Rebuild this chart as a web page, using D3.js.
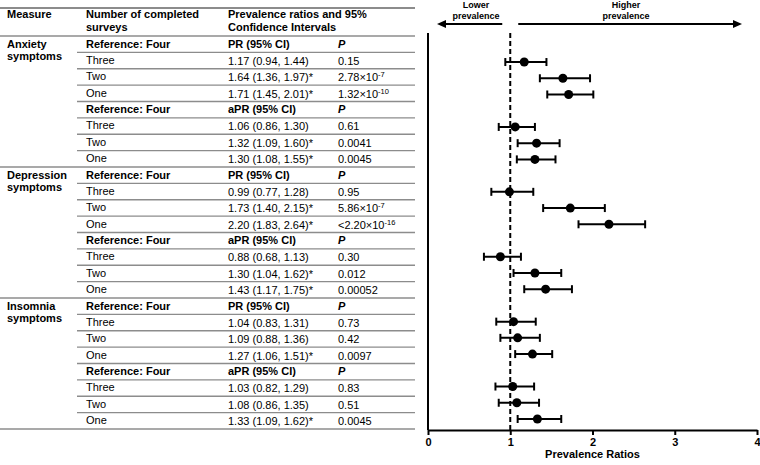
<!DOCTYPE html>
<html>
<head>
<meta charset="utf-8">
<script src="https://cdn.jsdelivr.net/npm/d3@7"></script>
<style>
    body { margin: 0; background: #fff; }
    svg { font-family: "Liberation Sans", Arial, sans-serif; }
</style>
</head>
<body>
<svg width="760" height="465"></svg>
<script>
var measures = ["Anxiety symptoms", "Depression symptoms", "Insomnia symptoms"];
var ratioTypes = ["PR", "aPR"];
var surveyCounts = ["Three", "Two", "One"];

// order: measure -> ratio type -> Three, Two, One
var estimates = [1.17, 1.64, 1.71, 1.06, 1.32, 1.30,
                 0.99, 1.73, 2.20, 0.88, 1.30, 1.43,
                 1.04, 1.09, 1.27, 1.03, 1.08, 1.33];
var lowerCI = [0.94, 1.36, 1.45, 0.86, 1.09, 1.08,
               0.77, 1.40, 1.83, 0.68, 1.04, 1.17,
               0.83, 0.88, 1.06, 0.82, 0.86, 1.09];
var upperCI = [1.44, 1.97, 2.01, 1.30, 1.60, 1.55,
               1.28, 2.15, 2.64, 1.13, 1.62, 1.75,
               1.31, 1.36, 1.51, 1.29, 1.35, 1.62];
var pValues = ["0.15", "2.78×10^-7", "1.32×10^-10", "0.61", "0.0041", "0.0045",
               "0.95", "5.86×10^-7", "<2.20×10^-16", "0.30", "0.012", "0.00052",
               "0.73", "0.42", "0.0097", "0.83", "0.51", "0.0045"];
var xTicks = [0, 1, 2, 3, 4];

var svg = d3.select("svg");
var lineColor = "#8c8c8c";

// build table rows
var rows = [];
var i = 0;
measures.forEach(function (m) {
    ratioTypes.forEach(function (t) {
        rows.push({ref: true, measure: m, label: "Reference: Four", ci: t + " (95% CI)", p: "P"});
        surveyCounts.forEach(function (s) {
            rows.push({ref: false, measure: m, label: s, idx: i,
                est: estimates[i], lo: lowerCI[i], hi: upperCI[i], p: pValues[i]});
            i++;
        });
    });
});

var yTable = d3.scaleBand().domain(d3.range(rows.length)).range([36, 429]);
var yChart = d3.scaleBand().domain(d3.range(rows.length)).range([37.7, 427.1]);

function fmt(v) { return v.toFixed(2); }

// ---- table ----
var tbl = svg.append("g");
var cols = {measure: 7, surveys: 86, ci: 228, p: 338};

tbl.append("line").attr("x1", 0).attr("x2", 415).attr("y1", 8).attr("y2", 8)
    .attr("stroke", lineColor).attr("stroke-width", 2);
tbl.append("line").attr("x1", 0).attr("x2", 415).attr("y1", 36).attr("y2", 36)
    .attr("stroke", lineColor).attr("stroke-width", 1.3);

var header = [
    {x: cols.measure, lines: ["Measure"]},
    {x: cols.surveys, lines: ["Number of completed", "surveys"]},
    {x: cols.ci, lines: ["Prevalence ratios and 95%", "Confidence Intervals"]}
];
header.forEach(function (h) {
    h.lines.forEach(function (l, k) {
        tbl.append("text").attr("x", h.x).attr("y", 18 + k * 13)
            .attr("font-size", 11).attr("font-weight", "bold").text(l);
    });
});

rows.forEach(function (r, k) {
    var top = yTable(k);
    var base = top + 11.5;
    var bottom = top + yTable.step();
    var full = (k % 8 === 7);
    tbl.append("line").attr("x1", full ? 0 : 77).attr("x2", 415)
        .attr("y1", bottom).attr("y2", bottom)
        .attr("stroke", lineColor).attr("stroke-width", 1.3);

    if (k % 8 === 0) {
        r.measure.split(" ").forEach(function (w, j) {
            tbl.append("text").attr("x", cols.measure).attr("y", base + j * 12)
                .attr("font-size", 11).attr("font-weight", "bold").text(w);
        });
    }

    tbl.append("text").attr("x", cols.surveys).attr("y", base)
        .attr("font-size", 11).attr("font-weight", r.ref ? "bold" : "normal").text(r.label);

    if (r.ref) {
        tbl.append("text").attr("x", cols.ci).attr("y", base)
            .attr("font-size", 11).attr("font-weight", "bold").text(r.ci);
        tbl.append("text").attr("x", cols.p).attr("y", base)
            .attr("font-size", 11).attr("font-weight", "bold").attr("font-style", "italic").text("P");
    } else {
        var star = r.lo > 1 ? "*" : "";
        tbl.append("text").attr("x", cols.ci).attr("y", base + 1)
            .attr("font-size", 11)
            .text(fmt(r.est) + " (" + fmt(r.lo) + ", " + fmt(r.hi) + ")" + star);
        var parts = r.p.split("^");
        var pt = tbl.append("text").attr("x", cols.p).attr("y", base + 1).attr("font-size", 11);
        pt.append("tspan").text(parts[0]);
        if (parts[1]) {
            pt.append("tspan").attr("dy", -4).attr("font-size", 7.5).text(parts[1]);
        }
    }
});

// ---- forest plot ----
var x = d3.scaleLinear().domain([0, 4]).range([428, 757]);
var chart = svg.append("g");

chart.append("line").attr("x1", x(0)).attr("x2", x(0)).attr("y1", 33).attr("y2", 430)
    .attr("stroke", "#000").attr("stroke-width", 2);

var xAxis = chart.append("g")
    .attr("transform", "translate(0,430)")
    .call(d3.axisBottom(x).tickValues(xTicks).tickSize(5).tickSizeOuter(0).tickFormat(d3.format("d")));
xAxis.select(".domain").attr("stroke-width", 2);
xAxis.selectAll(".tick line").attr("stroke-width", 2);
xAxis.selectAll(".tick text").attr("font-size", 11).attr("font-weight", "bold")
    .attr("font-family", "Liberation Sans, Arial, sans-serif");

chart.append("text").attr("x", x(2)).attr("y", 458).attr("text-anchor", "middle")
    .attr("font-size", 11).attr("font-weight", "bold").text("Prevalence Ratios");

chart.append("line").attr("x1", x(1)).attr("x2", x(1)).attr("y1", 33).attr("y2", 430)
    .attr("stroke", "#000").attr("stroke-width", 2).attr("stroke-dasharray", "5,3");

var dataRows = rows.filter(function (r) { return !r.ref; });
var capH = 4;
var marks = chart.selectAll("g.ci").data(dataRows).enter().append("g").attr("class", "ci")
    .attr("transform", function (d) {
        return "translate(0," + (yChart(rows.indexOf(d)) + yChart.bandwidth() / 2) + ")";
    });
marks.append("line").attr("x1", function (d) { return x(d.lo); })
    .attr("x2", function (d) { return x(d.hi); })
    .attr("stroke", "#000").attr("stroke-width", 2);
marks.append("line").attr("x1", function (d) { return x(d.lo); })
    .attr("x2", function (d) { return x(d.lo); })
    .attr("y1", -capH).attr("y2", capH).attr("stroke", "#000").attr("stroke-width", 2);
marks.append("line").attr("x1", function (d) { return x(d.hi); })
    .attr("x2", function (d) { return x(d.hi); })
    .attr("y1", -capH).attr("y2", capH).attr("stroke", "#000").attr("stroke-width", 2);
marks.append("circle").attr("cx", function (d) { return x(d.est); })
    .attr("r", 4.5).attr("fill", "#000");

// direction arrows
var ay = 24;
var leftTip = 437, leftEnd = x(1) - 8, rightStart = x(1) + 8, rightTip = 742;
chart.append("line").attr("x1", leftTip + 5).attr("x2", leftEnd).attr("y1", ay).attr("y2", ay)
    .attr("stroke", "#000").attr("stroke-width", 2);
chart.append("path").attr("d", "M" + leftTip + "," + ay + "L" + (leftTip + 9) + "," + (ay - 4) +
    "L" + (leftTip + 9) + "," + (ay + 4) + "Z").attr("fill", "#000");
chart.append("line").attr("x1", rightStart).attr("x2", rightTip - 5).attr("y1", ay).attr("y2", ay)
    .attr("stroke", "#000").attr("stroke-width", 2);
chart.append("path").attr("d", "M" + rightTip + "," + ay + "L" + (rightTip - 9) + "," + (ay - 4) +
    "L" + (rightTip - 9) + "," + (ay + 4) + "Z").attr("fill", "#000");

[{cx: 476, t: ["Lower", "prevalence"]}, {cx: 626, t: ["Higher", "prevalence"]}].forEach(function (a) {
    a.t.forEach(function (s, k) {
        chart.append("text").attr("x", a.cx).attr("y", 8 + k * 10.5).attr("text-anchor", "middle")
            .attr("font-size", 9).attr("font-weight", "bold").text(s);
    });
});
</script>
</body>
</html>
